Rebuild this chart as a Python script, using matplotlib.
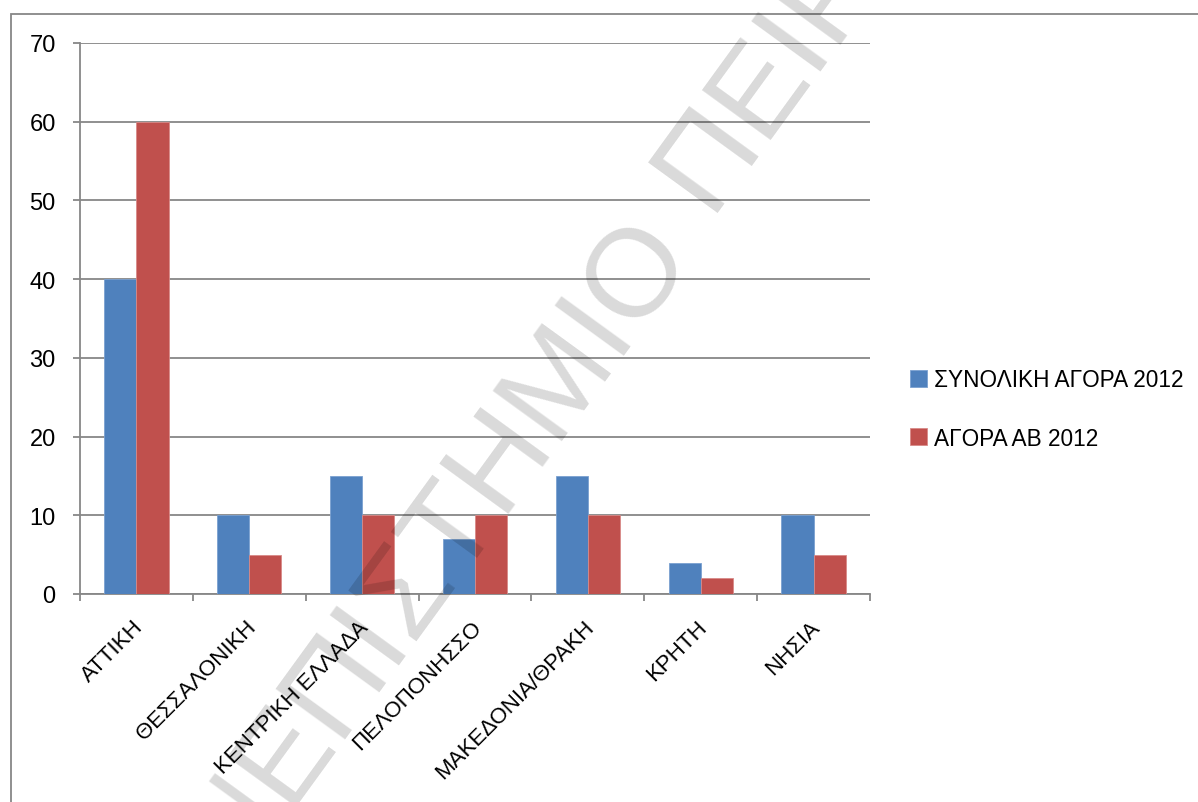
import matplotlib
matplotlib.use("Agg")
import matplotlib.pyplot as plt
from matplotlib.patches import Rectangle
from matplotlib.transforms import ScaledTranslation
import numpy as np

categories = ["ΑΤΤΙΚΗ", "ΘΕΣΣΑΛΟΝΙΚΗ", "ΚΕΝΤΡΙΚΗ ΕΛΛΑΔΑ", "ΠΕΛΟΠΟΝΗΣΣΟ",
              "ΜΑΚΕΔΟΝΙΑ/ΘΡΑΚΗ", "ΚΡΗΤΗ", "ΝΗΣΙΑ"]
total_market = [40, 10, 15, 7, 15, 4, 10]
ab_market = [60, 5, 10, 10, 10, 2, 5]
series_names = ["ΣΥΝΟΛΙΚΗ ΑΓΟΡΑ 2012", "ΑΓΟΡΑ ΑΒ 2012"]
yticks = [0, 10, 20, 30, 40, 50, 60, 70]

plt.rcParams['font.family'] = ['Liberation Sans', 'DejaVu Sans']

W, H = 1198, 803
fig = plt.figure(figsize=(W / 100, H / 100), dpi=100)
fig.patch.set_facecolor('white')

# outer chart border
fig.patches.append(Rectangle((11 / W, -0.1), 1.2, 1 - 15 / H + 0.1, transform=fig.transFigure,
                             fill=False, edgecolor='#878787', linewidth=1.3, zorder=0))

ax = fig.add_axes([80 / W, 1 - 595 / H, (870 - 80) / W, (595 - 44) / H])
x = np.arange(len(categories))
bw = 0.285
blue = '#4F81BD'
red = '#C0504D'
b1 = ax.bar(x - bw / 2, total_market, bw, color=blue, edgecolor='#7aa0d0', linewidth=0.6, zorder=3,
            label=series_names[0])
b2 = ax.bar(x + bw / 2, ab_market, bw, color=red, edgecolor='#d88a88', linewidth=0.6, zorder=3,
            label=series_names[1])

ax.set_xlim(-0.5, len(categories) - 0.5)
ax.set_ylim(0, 70)
ax.set_yticks(yticks)
ax.yaxis.grid(True, color='#878787', linewidth=1.3, zorder=1)
ax.set_axisbelow(True)
for s in ['top', 'right']:
    ax.spines[s].set_visible(False)
for s in ['left', 'bottom']:
    ax.spines[s].set_color('#878787')
    ax.spines[s].set_linewidth(1.3)

ax.tick_params(axis='y', length=5, width=1.3, color='#878787', pad=12.5, labelsize=17)
ax.set_xticks(x)
ax.set_xticks(np.arange(-0.5, len(categories), 1.0), minor=True)
ax.tick_params(axis='x', which='major', length=0, pad=16)
ax.tick_params(axis='x', which='minor', length=5, width=1.3, color='#878787')
ax.set_xticklabels(categories, rotation=45, ha='right', rotation_mode='anchor', fontsize=16)
shift = ScaledTranslation(-4 / 100, 0, fig.dpi_scale_trans)
for lab in ax.get_xticklabels():
    lab.set_transform(lab.get_transform() + shift)

leg = fig.legend(handles=[b1, b2], labels=series_names, loc='center left',
                 bbox_to_anchor=(901 / W, 1 - 410 / H), frameon=False, fontsize=16.3,
                 handlelength=0.75, handleheight=0.75, handletextpad=0.3, labelspacing=1.55,
                 borderaxespad=0)

# watermark
wm_kw = dict(transform=fig.transFigure, rotation=54, rotation_mode='anchor',
             va='baseline', fontsize=90, color='black', alpha=0.15, zorder=10,
             family='Liberation Sans')
anchor = (692 / W, 1 - 249 / H)
fig.text(anchor[0], anchor[1], "ΠΑΝΕΠΙΣΤΗΜΙΟ", ha='right', **wm_kw)
fig.text(anchor[0], anchor[1], " ΠΕΙΡΑΙΩΣ", ha='left', **wm_kw)

fig.savefig('out.png', dpi=100, facecolor='white')
